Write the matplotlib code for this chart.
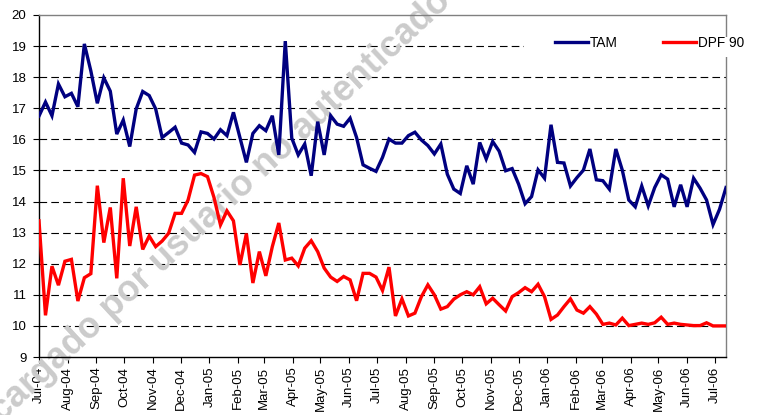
import numpy as np
import pandas as pd
import matplotlib
matplotlib.use("Agg")
import matplotlib.pyplot as plt
import matplotlib.dates as mdates
from matplotlib.patches import Rectangle

# weekly observations, Jul-04 .. Jul-06
start_date = "2004-07-01"
n_weeks = 107

tam = [16.75, 17.20, 16.76, 17.78, 17.37, 17.48, 17.05, 19.07, 18.20, 17.16,
       17.98, 17.55, 16.17, 16.62, 15.77, 16.98, 17.54, 17.41, 16.98, 16.06,
       16.22, 16.39, 15.88, 15.82, 15.58, 16.24, 16.19, 16.01, 16.31, 16.12,
       16.87, 16.06, 15.26, 16.19, 16.44, 16.28, 16.76, 15.50, 19.16, 16.04,
       15.50, 15.85, 14.83, 16.57, 15.50, 16.76, 16.49, 16.42, 16.68, 16.06,
       15.18, 15.07, 14.97, 15.42, 16.01, 15.88, 15.88, 16.12, 16.23, 15.98,
       15.80, 15.53, 15.85, 14.88, 14.40, 14.26, 15.15, 14.56, 15.90, 15.37,
       15.93, 15.62, 14.99, 15.06, 14.56, 13.93, 14.16, 15.02, 14.75, 16.47,
       15.26, 15.24, 14.50, 14.77, 15.01, 15.69, 14.70, 14.67, 14.40, 15.69,
       15.01, 14.05, 13.83, 14.50, 13.86, 14.45, 14.86, 14.72, 13.83, 14.54,
       13.83, 14.75, 14.43, 14.05, 13.26, 13.75, 14.45]

dpf90 = [13.38, 10.34, 11.92, 11.31, 12.08, 12.14, 10.80, 11.55, 11.68, 14.51,
         12.68, 13.81, 11.53, 14.75, 12.57, 13.83, 12.46, 12.89, 12.55, 12.73,
         12.98, 13.62, 13.62, 14.05, 14.85, 14.90, 14.80, 14.13, 13.25, 13.70,
         13.38, 11.96, 12.97, 11.38, 12.39, 11.61, 12.55, 13.31, 12.12, 12.18,
         11.93, 12.50, 12.74, 12.39, 11.86, 11.57, 11.43, 11.59, 11.48, 10.81,
         11.69, 11.69, 11.57, 11.14, 11.89, 10.32, 10.87, 10.32, 10.41, 10.94,
         11.32, 11.00, 10.54, 10.62, 10.86, 11.00, 11.10, 11.00, 11.26, 10.71,
         10.89, 10.68, 10.48, 10.94, 11.07, 11.23, 11.10, 11.34, 10.94, 10.21,
         10.35, 10.62, 10.87, 10.51, 10.41, 10.62, 10.38, 10.05, 10.09, 10.03,
         10.25, 10.01, 10.05, 10.09, 10.05, 10.10, 10.28, 10.05, 10.09, 10.05,
         10.03, 10.01, 10.01, 10.10, 10.00, 10.00, 10.00]

series_names = ["TAM", "DPF 90"]
series_colors = ["#000080", "#ff0000"]
watermark = "Descargado por usuario no autenticado"

plt.rcParams["font.family"] = ["Liberation Sans", "DejaVu Sans"]
plt.rcParams["lines.scale_dashes"] = False

dates = pd.date_range(start_date, periods=n_weeks, freq="7D")

fig = plt.figure(figsize=(7.59, 4.15), dpi=100)
ax = fig.add_axes([39 / 759, 1 - 357 / 415, (726 - 39) / 759, (357 - 15) / 415])

for vals, name, col in zip([tam, dpf90], series_names, series_colors):
    ax.plot(dates, vals, color=col, lw=2.4, label=name, zorder=3,
            solid_joinstyle="miter")

ax.set_ylim(9, 20)
ax.set_yticks(range(9, 21))
ax.set_xlim(dates[0], dates[-1])
ax.xaxis.set_major_locator(mdates.MonthLocator())
ax.xaxis.set_major_formatter(mdates.DateFormatter("%b-%y"))

# dashed horizontal grid, none at top
for v in range(10, 20):
    ax.axhline(v, color="black", lw=0.8, dashes=(5.5, 3), zorder=1)

ax.tick_params(axis="y", length=4, width=0.8, pad=5, labelsize=9.5, direction="out")
ax.tick_params(axis="x", length=4, width=0.8, pad=3, labelsize=9.5, direction="out",
               labelrotation=90)
for lab in ax.get_xticklabels():
    lab.set_verticalalignment("top")

ax.spines["left"].set_color("black")
ax.spines["bottom"].set_color("black")
ax.spines["top"].set_color("#808080")
ax.spines["right"].set_color("#808080")
for s in ax.spines.values():
    s.set_linewidth(1.0)

# white legend area (hides grid and right border behind the key)
ax.add_patch(Rectangle((524 / 759, 1 - 57 / 415), (750 - 524) / 759, 20 / 415,
                       transform=fig.transFigure, facecolor="white",
                       edgecolor="none", zorder=4, clip_on=False))

leg = ax.legend(loc="center left", bbox_to_anchor=(550 / 759, 1 - 43 / 415),
                bbox_transform=fig.transFigure, ncol=2, fontsize=9.8,
                frameon=False, handlelength=2.4, handletextpad=0.15,
                columnspacing=3.3, borderpad=0.4, borderaxespad=0)
leg.set_zorder(5)
for h in leg.get_lines():
    h.set_linewidth(2.4)

ax.text(446 / 759, 1 + 4 / 415, watermark, transform=fig.transFigure,
        rotation=43, rotation_mode="anchor", ha="right", va="center",
        fontsize=26, fontweight="bold", color="#cbcbcb", zorder=2, clip_on=False)

fig.savefig("out.png", dpi=100)
